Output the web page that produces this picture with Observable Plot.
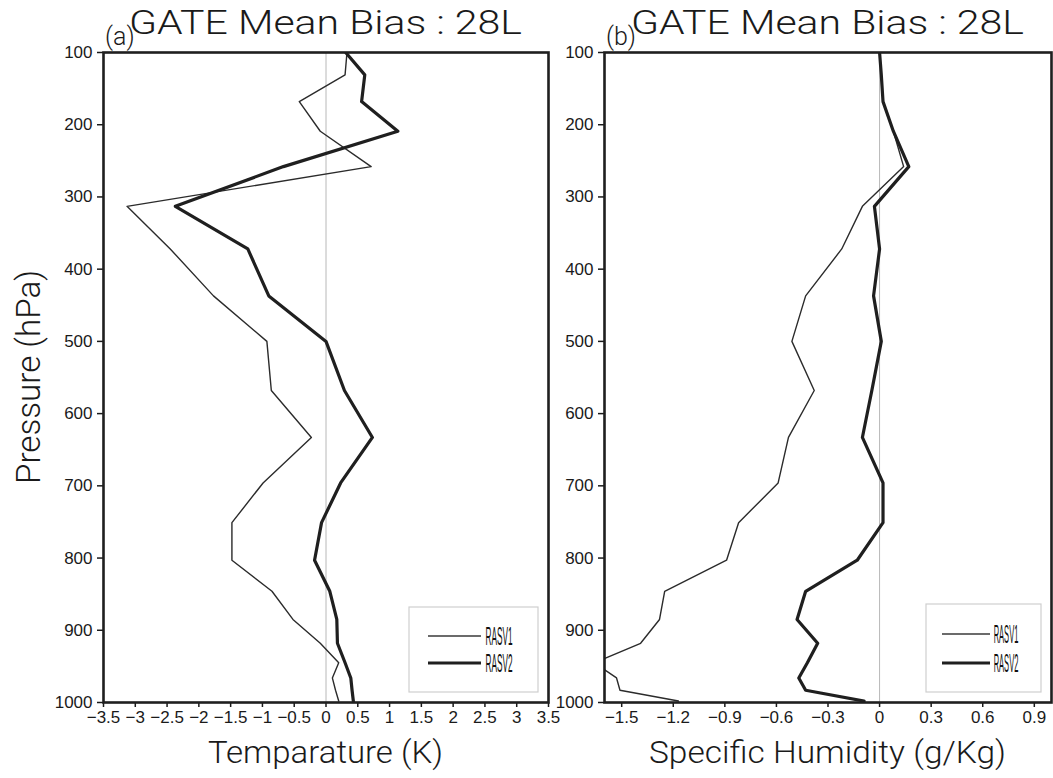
<!DOCTYPE html>
<html><head><meta charset="utf-8">
<script src="https://cdn.jsdelivr.net/npm/d3@7"></script>
<script src="https://cdn.jsdelivr.net/npm/@observablehq/plot@0.6"></script>
<style>
body{margin:0;background:#fff;}
#wrap{display:flex;width:1053px;height:778px;overflow:hidden;background:#fff;}
#wrap svg{display:block;overflow:visible;}
</style></head><body><div id="wrap"></div>
<script>
// ---- data ----
const levels    = [100,131,168,209,258,313,372,437,500,568,633,696,751,803,846,885,918,945,966,983,998];
const tempRASV1 = [0.33,0.30,-0.42,-0.09,0.71,-3.13,-2.45,-1.77,-0.93,-0.86,-0.23,-0.99,-1.48,-1.48,-0.85,-0.52,-0.09,0.20,0.10,0.15,0.20];
const tempRASV2 = [0.31,0.61,0.56,1.13,-0.67,-2.37,-1.23,-0.90,0.00,0.29,0.73,0.23,-0.07,-0.18,0.06,0.17,0.18,0.30,0.39,0.41,0.43];
const qRASV1    = [0.00,0.01,0.02,0.08,0.14,-0.10,-0.22,-0.43,-0.51,-0.38,-0.53,-0.59,-0.82,-0.89,-1.25,-1.28,-1.39,-1.66,-1.53,-1.51,-1.17];
const qRASV2    = [0.00,0.01,0.02,0.08,0.17,-0.03,0.00,-0.035,0.01,-0.045,-0.10,0.02,0.02,-0.13,-0.43,-0.48,-0.36,-0.42,-0.47,-0.43,-0.09];
const seriesNames   = ["RASV1","RASV2"];
const pressureTicks = [100,200,300,400,500,600,700,800,900,1000];
const tempTicks     = [-3.5,-3,-2.5,-2,-1.5,-1,-0.5,0,0.5,1,1.5,2,2.5,3,3.5];
const qTicks        = [-1.5,-1.2,-0.9,-0.6,-0.3,0,0.3,0.6,0.9];
const tempDomain    = [-3.5,3.5];
const qDomain       = [-1.6,1.0];
const titleText     = "GATE Mean Bias : 28L";
const panelTags     = ["(a)","(b)"];
const xLabels       = ["Temparature (K)","Specific Humidity (g/Kg)"];
const yLabel        = "Pressure (hPa)";

function fmt(d){
  const a = Math.abs(d);
  const s = a < 1e-9 ? "0" : (Number.isInteger(a) ? String(a) : a.toFixed(1));
  return d < -1e-9 ? "\u2212" + s : s;
}

const TITLE_FONT = "Roboto, 'DejaVu Sans', sans-serif";

function panel(o){
  const rows = levels.flatMap((p,i)=>[
    {p, v:o.v1[i], s:seriesNames[0]},
    {p, v:o.v2[i], s:seriesNames[1]}
  ]);
  const H = 778, mt = 52, mb = 76;
  const svg = Plot.plot({
    width:o.width, height:H,
    marginLeft:o.ml, marginRight:o.mr, marginTop:mt, marginBottom:mb,
    style:{fontFamily:"'Liberation Sans', Arial, sans-serif", fontSize:"17px", color:"#1a1a1a", background:"transparent", overflow:"visible"},
    x:{domain:o.domain, ticks:o.ticks, tickFormat:fmt, tickSize:5, tickPadding:3, label:null},
    y:{domain:[100,1000], reverse:true, ticks:pressureTicks, tickFormat:d=>String(d), tickSize:6, tickPadding:5, label:null},
    marks:[
      Plot.ruleX([0], {stroke:"#b8b8b8", strokeWidth:1}),
      Plot.line(rows.filter(d=>d.s===seriesNames[0]), {x:"v", y:"p", stroke:"#2b2b2b", strokeWidth:1.4, clip:true}),
      Plot.line(rows.filter(d=>d.s===seriesNames[1]), {x:"v", y:"p", stroke:"#1f1f1f", strokeWidth:3.2, clip:true}),
      Plot.frame({stroke:"#1f1f1f", strokeWidth:2.6})
    ]
  });
  const s = d3.select(svg);
  s.selectAll("g[aria-label$='tick'] path").attr("stroke-width",1.5);
  const fl = o.ml, fr = o.width - o.mr, ft = mt, fb = H - mb;
  const cx = (fl+fr)/2;
  // title
  s.append("text").text(titleText)
    .attr("x",cx).attr("y",34).attr("text-anchor","middle")
    .attr("font-family",TITLE_FONT).attr("font-weight",300).attr("font-size",34)
    .attr("fill","#1a1a1a").attr("textLength",393).attr("lengthAdjust","spacingAndGlyphs");
  // tag
  s.append("text").text(o.tag)
    .attr("x",fl+2).attr("y",45).attr("text-anchor","start")
    .attr("font-family",TITLE_FONT).attr("font-weight",300).attr("font-size",25)
    .attr("fill","#1a1a1a");
  // x label
  s.append("text").text(o.xlabel)
    .attr("x",cx).attr("y",763).attr("text-anchor","middle")
    .attr("font-family",TITLE_FONT).attr("font-weight",300).attr("font-size",32)
    .attr("fill","#1a1a1a").attr("textLength",o.xlabelLen).attr("lengthAdjust","spacingAndGlyphs");
  if (o.showY){
    s.append("text").text(yLabel)
      .attr("transform",`translate(40,${(ft+fb)/2}) rotate(-90)`).attr("text-anchor","middle")
      .attr("font-family",TITLE_FONT).attr("font-weight",300).attr("font-size",33)
      .attr("fill","#1a1a1a").attr("textLength",214).attr("lengthAdjust","spacingAndGlyphs");
  }
  // legend
  const L = o.legend;
  const bx = fr - 10 - L.w, by = fb - 10 - L.h;
  const g = s.append("g");
  g.append("rect").attr("x",bx).attr("y",by).attr("width",L.w).attr("height",L.h)
    .attr("fill","#fff").attr("stroke","#cfcfcf").attr("stroke-width",1.2);
  seriesNames.forEach((name,i)=>{
    const ly = by + L.ly[i];
    g.append("line").attr("x1",bx+L.x1).attr("x2",bx+L.x2).attr("y1",ly).attr("y2",ly)
      .attr("stroke", i===0 ? "#3a3a3a" : "#1f1f1f").attr("stroke-width", i===0 ? 1.5 : 3.2);
    g.append("text").text(name)
      .attr("transform",`translate(${bx+L.tx},${ly+9}) scale(${L.sx},1)`)
      .attr("font-family","'Liberation Sans', Arial, sans-serif").attr("font-size",L.fs)
      .attr("fill","#111");
  });
  return svg;
}

const wrap = document.getElementById("wrap");
wrap.appendChild(panel({
  v1:tempRASV1, v2:tempRASV2, domain:tempDomain, ticks:tempTicks,
  width:552, ml:103, mr:4, tag:panelTags[0], xlabel:xLabels[0], xlabelLen:235, showY:true,
  legend:{w:129, h:85, x1:19, x2:72, ly:[29,56], tx:90, fs:25, sx:0.33}
}));
wrap.appendChild(panel({
  v1:qRASV1, v2:qRASV2, domain:qDomain, ticks:qTicks,
  width:501, ml:52, mr:2, tag:panelTags[1], xlabel:xLabels[1], xlabelLen:357, showY:false,
  legend:{w:115, h:88, x1:16, x2:64, ly:[30,59], tx:80, fs:26, sx:0.29}
}));
</script></body></html>
